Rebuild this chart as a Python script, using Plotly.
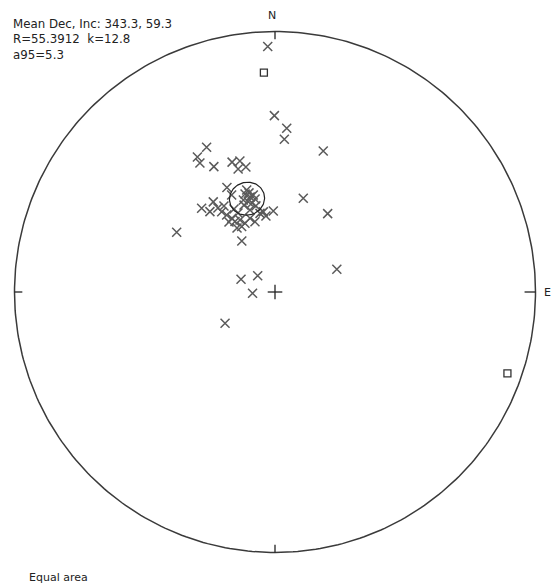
import numpy as np
import plotly.graph_objects as go

# Site directions: declination / inclination (degrees)
dec = [358.3, 359.8, 4.1, 3.5, 18.9, 16.8, 33.9, 69.8, 301.3, 326.9, 290.5, 313.3, 266.7, 238.0,
       334.7, 330.1, 329.8, 334.0, 341.7, 345.0, 343.3, 346.9,
       335.3, 335.9, 344.5, 343.0, 345.3, 347.4, 343.5, 341.0, 347.9,
       318.8, 325.6, 321.0, 326.4, 327.9, 329.6, 330.4, 334.1, 333.0, 336.4, 341.3, 344.1, 349.2,
       351.7, 358.8, 329.3, 334.9, 343.0,
       345.3, 345.5, 340.4, 333.7, 325.8, 326.7, 347.5, 353.2, 329.3]
inc = [6.4, 32.8, 37.1, 40.9, 42.3, 59.2, 60.3, 69.4, 53.6, 71.0, 78.7, 82.6, 83.0, 71.6,
       38.5, 40.0, 42.2, 45.5, 46.4, 46.8, 49.2, 49.2,
       53.6, 56.5, 56.6, 57.7, 59.1, 58.7, 60.4, 59.4, 60.1,
       54.8, 55.5, 57.4, 59.7, 61.4, 63.2, 64.6, 64.9, 67.0, 66.5, 65.6, 67.1, 64.9,
       64.6, 64.6, 58.5, 62.6, 63.1,
       57.7, 61.1, 61.0, 60.9, 58.0, 63.7, 62.3, 66.0, 66.7]

# Upper-hemisphere directions (negative inclination)
dec_up = [357.1, 109.3]
inc_up = [-16.8, -6.1]

mean_dec, mean_inc = 343.3, 59.3
R_val, k_val, a95 = 55.3912, 12.8, 5.3


def equal_area(d, i):
    d = np.radians(np.asarray(d, float))
    i = np.radians(np.abs(np.asarray(i, float)))
    r = np.sqrt(2) * np.sin((np.pi / 2 - i) / 2)
    return r * np.sin(d), r * np.cos(d)


def small_circle(d0, i0, radius, n=120):
    d0, i0, a = np.radians(d0), np.radians(i0), np.radians(radius)
    c = np.array([np.cos(i0) * np.cos(d0), np.cos(i0) * np.sin(d0), np.sin(i0)])
    u = np.array([-np.sin(i0) * np.cos(d0), -np.sin(i0) * np.sin(d0), np.cos(i0)])
    w = np.cross(c, u)
    t = np.linspace(0, 2 * np.pi, n)
    v = (np.cos(a) * c[:, None] + np.sin(a) * (np.cos(t) * u[:, None] + np.sin(t) * w[:, None]))
    dd = np.degrees(np.arctan2(v[1], v[0]))
    ii = np.degrees(np.arcsin(np.clip(v[2], -1, 1)))
    return equal_area(dd, ii)


W, H = 553, 585
cx, cy, rad = 275, 292, 260.5  # primitive circle placement in pixels

fig = go.Figure()

# Primitive circle
t = np.linspace(0, 2 * np.pi, 361)
fig.add_trace(go.Scatter(x=np.cos(t), y=np.sin(t), mode="lines",
                         line=dict(color="#3a3a3a", width=1.5), hoverinfo="skip"))

# Cardinal ticks and centre cross
tick = 0.03
for (x0, y0, x1, y1) in [(0, 1, 0, 1 - tick), (1, 0, 1 - 1.4 * tick, 0),
                         (-1, 0, -1 + tick, 0), (0, -1, 0, -1 + tick),
                         (-0.028, 0, 0.028, 0), (0, -0.028, 0, 0.028)]:
    fig.add_trace(go.Scatter(x=[x0, x1], y=[y0, y1], mode="lines",
                             line=dict(color="#222", width=1.3), hoverinfo="skip"))

# Lower-hemisphere directions
x, y = equal_area(dec, inc)
fig.add_trace(go.Scatter(x=x, y=y, mode="markers",
                         marker=dict(symbol="x-thin", size=9,
                                     line=dict(color="#5a5a5a", width=1.5))))

# Upper-hemisphere directions
xu, yu = equal_area(dec_up, inc_up)
fig.add_trace(go.Scatter(x=xu, y=yu, mode="markers",
                         marker=dict(symbol="square-open", size=7,
                                     line=dict(color="#333", width=1.3), color="#333")))

# Mean direction with a95 cone
xc, yc = small_circle(mean_dec, mean_inc, a95)
fig.add_trace(go.Scatter(x=xc, y=yc, mode="lines",
                         line=dict(color="#222", width=1.2), hoverinfo="skip"))

font = dict(family="DejaVu Sans", size=11.8, color="#222")
small = dict(family="DejaVu Sans", size=11, color="#222")
info = [f"Mean Dec, Inc: {mean_dec}, {mean_inc}",
        f"R={R_val}  k={k_val}",
        f"a95={a95}"]
for j, line in enumerate(info):
    fig.add_annotation(x=11 / W, y=1 - (24 + 15.5 * j) / H, xref="paper", yref="paper",
                       text=line, showarrow=False, xanchor="left", yanchor="middle", font=font)
fig.add_annotation(x=27 / W, y=1 - 577 / H, xref="paper", yref="paper", text="Equal area",
                   showarrow=False, xanchor="left", yanchor="middle", font=small)
fig.add_annotation(x=272 / W, y=1 - 15 / H, xref="paper", yref="paper", text="N",
                   showarrow=False, xanchor="center", yanchor="middle", font=small)
fig.add_annotation(x=547.5 / W, y=1 - 292 / H, xref="paper", yref="paper", text="E",
                   showarrow=False, xanchor="center", yanchor="middle", font=small)

fig.update_layout(
    width=W, height=H, margin=dict(l=0, r=0, t=0, b=0),
    paper_bgcolor="white", plot_bgcolor="white", showlegend=False,
    xaxis=dict(range=[-cx / rad, (W - cx) / rad], visible=False, fixedrange=True),
    yaxis=dict(range=[-(H - cy) / rad, cy / rad], visible=False, fixedrange=True),
)

fig.write_html("out.html")
